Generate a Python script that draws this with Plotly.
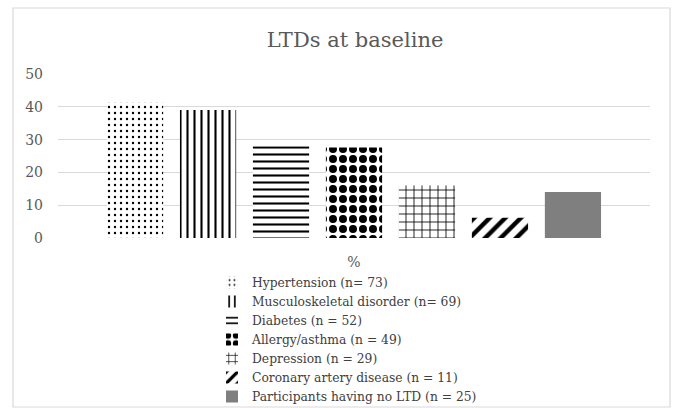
import plotly.graph_objects as go

category = ["%"]
series_names = [
    "Hypertension (n= 73)",
    "Musculoskeletal disorder (n= 69)",
    "Diabetes (n = 52)",
    "Allergy/asthma (n = 49)",
    "Depression (n = 29)",
    "Coronary artery disease (n = 11)",
    "Participants having no LTD (n = 25)",
]
series_values = [41.5, 39.0, 28.0, 27.6, 16.0, 6.2, 14.0]
y_ticks = [0, 10, 20, 30, 40, 50]

patterns = [
    dict(shape=".", size=6, solidity=0.12),
    dict(shape="|", size=7, solidity=0.3),
    dict(shape="-", size=7, solidity=0.3),
    dict(shape=".", size=10, solidity=0.5),
    dict(shape="+", size=8, solidity=0.2),
    dict(shape="/", size=11, solidity=0.4),
    None,
]

fig = go.Figure()
for name, val, pat in zip(series_names, series_values, patterns):
    if pat is None:
        marker = dict(color="#7f7f7f", line=dict(width=0))
    else:
        p = dict(pat)
        p.update(fgcolor="#000000", bgcolor="white", fgopacity=1, fillmode="replace")
        marker = dict(color="white", pattern=p, line=dict(width=0))
    fig.add_trace(go.Bar(x=category, y=[val], name=name, marker=marker))

L, R, T, B = 58, 650, 74, 238
W, H = R - L, B - T

fig.update_layout(
    width=676, height=408,
    margin=dict(l=L, r=676 - R, t=T, b=408 - B, autoexpand=False),
    paper_bgcolor="white", plot_bgcolor="white",
    barmode="group", bargap=0.137, bargroupgap=0.23,
    title=dict(text="LTDs at baseline", x=(355 - L) / W, xref="paper", xanchor="center",
               y=1 - 40 / 408, yanchor="middle",
               font=dict(family="DejaVu Serif", size=21, color="#595959")),
    font=dict(family="DejaVu Serif", color="#595959"),
    legend=dict(orientation="v", x=(212 - L) / W, xanchor="left",
                y=-(268 - B) / H, yanchor="top",
                font=dict(family="DejaVu Serif", size=12.3, color="#404040"),
                bgcolor="rgba(0,0,0,0)", traceorder="normal"),
    showlegend=True,
)
fig.update_yaxes(range=[0, 50], tickvals=y_ticks, showgrid=True, gridcolor="#d9d9d9",
                 gridwidth=1.3, zeroline=False, showline=False, ticks="",
                 ticklabelstandoff=14,
                 tickfont=dict(family="DejaVu Serif", size=14, color="#595959"))
fig.update_xaxes(showgrid=False, showline=False, zeroline=False, ticks="",
                 ticklabelstandoff=14,
                 tickfont=dict(family="DejaVu Serif", size=14, color="#595959"))

fig.add_shape(type="rect", xref="paper", yref="paper",
              x0=(13 - L) / W, x1=(670 - L) / W, y0=-(407 - B) / H, y1=(B - 8) / H,
              line=dict(color="#d9d9d9", width=1.2), fillcolor="rgba(0,0,0,0)", layer="below")

fig.write_html("out.html", config={"displayModeBar": False},
               post_script="document.body.style.margin='0';document.body.style.overflow='hidden';")
